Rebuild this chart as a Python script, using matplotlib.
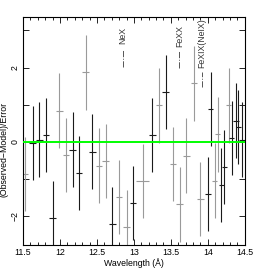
import matplotlib
matplotlib.use('Agg')
import matplotlib.pyplot as plt
from matplotlib.ticker import MultipleLocator, FixedLocator, FuncFormatter

plt.rcParams['font.family'] = ['Liberation Sans Narrow', 'Liberation Sans', 'DejaVu Sans']

# residual bins: centre wavelength, half width, (obs-model)/error, shade
wave = [11.53, 11.63, 11.72, 11.81, 11.90, 11.99, 12.08, 12.17, 12.26, 12.35,
        12.44, 12.53, 12.62, 12.71, 12.80, 12.90, 12.99, 13.12, 13.25, 13.34,
        13.43, 13.53, 13.62, 13.71, 13.81, 13.90, 14.00, 14.04, 14.09, 14.13,
        14.18, 14.22, 14.28, 14.32, 14.38, 14.41, 14.46]
resid = [-0.86, -0.03, 0.06, 0.18, -2.04, 0.84, -0.36, -0.21, -0.83, 1.87,
         -0.26, -0.64, -0.51, -2.22, -1.49, -2.29, -1.64, -1.06, 0.18, 0.98,
         1.34, -0.59, -1.68, -0.37, 1.57, -1.54, -1.41, 0.89, -1.04, 0.20,
         -1.16, -0.67, 0.98, 0.11, 0.57, 0.40, 0.06]
halfw = [0.045] * 17 + [0.085] + [0.045] * 9 + [0.035] * 10
dark = [0, 1, 1, 1, 1, 0, 0, 1, 1, 0,
        1, 0, 0, 1, 0, 0, 1, 0, 1, 0,
        1, 0, 0, 0, 0, 0, 1, 1, 0, 0,
        1, 1, 0, 1, 1, 1, 1]

# line identifications
lines = ['NeX', 'FeXX', 'FeXIX(NeIX)']
line_wave = [12.85, 13.615, 13.92]
text_base = [2.62, 2.55, 2.0]
dash_top = [2.47, 2.47, 1.88]
dash_bot = [2.02, 1.99, 1.48]

fig = plt.figure(figsize=(2.73, 2.73), dpi=100)
ax = fig.add_axes([0.084, 0.103, 0.813, 0.835])

for w, r, h, d in zip(wave, resid, halfw, dark):
    c = '#1a1a1a' if d else '#9a9a9a'
    ax.errorbar(w, r, xerr=h, yerr=1.0, fmt='none', ecolor=c, elinewidth=0.8, capsize=0)

ax.axhline(0, color='#00ff00', lw=1.4, zorder=5)

for name, w, tb, dt, db in zip(lines, line_wave, text_base, dash_top, dash_bot):
    ax.plot([w, w], [db, dt], color='#555555', lw=0.7, ls='-.')
    ax.text(w, tb, name, rotation=90, ha='center', va='bottom', fontsize=6.3, color='#333333')

ax.set_xlim(11.5, 14.5)
ax.set_ylim(-2.77, 3.36)
ax.xaxis.set_major_locator(MultipleLocator(0.5))
ax.xaxis.set_minor_locator(MultipleLocator(0.1))
ax.yaxis.set_major_locator(FixedLocator([-2, 0, 2]))
ax.yaxis.set_minor_locator(FixedLocator([-1, 1, 3]))
ax.xaxis.set_major_formatter(FuncFormatter(lambda v, p: '%g' % v))
ax.yaxis.set_major_formatter(FuncFormatter(lambda v, p: '%d' % v if v >= 0 else '\u2212%d' % -v))

ax.tick_params(which='both', direction='in', top=True, right=True, labelsize=6.3, width=0.6, pad=2.5)
ax.tick_params(which='major', length=4)
ax.tick_params(which='minor', length=2.5)
ax.tick_params(axis='y', which='minor', length=4)
for lab in ax.get_yticklabels():
    lab.set_rotation(90)
    lab.set_va('center')
for s in ax.spines.values():
    s.set_linewidth(0.8)

ax.set_xlabel('Wavelength (\u00c5)', fontsize=6.3, labelpad=1)
ax.set_ylabel('(Observed\u2212Model)/Error', fontsize=6.3)
ax.yaxis.set_label_coords(-0.065, 0.42)

fig.savefig('out.png', dpi=100)
